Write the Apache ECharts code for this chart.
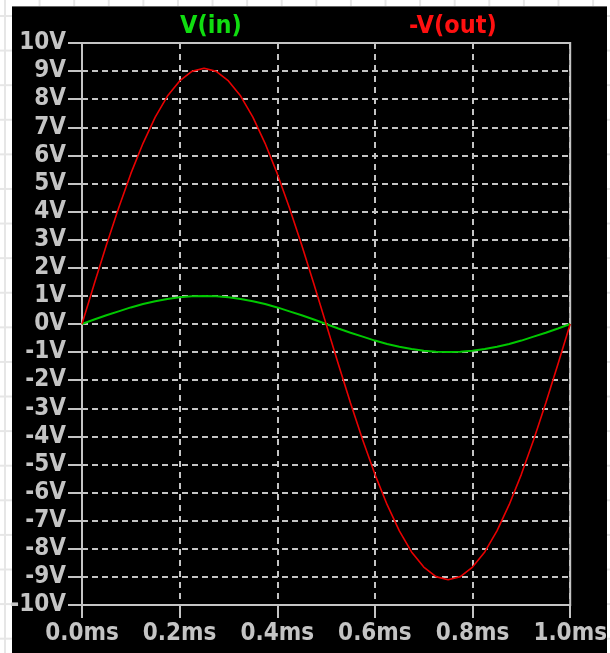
<!DOCTYPE html>
<html>
<head>
<meta charset="utf-8">
<script src="https://cdn.jsdelivr.net/npm/echarts@6/dist/echarts.min.js"></script>
<style>
  html, body { margin: 0; padding: 0; }
  body {
    width: 610px; height: 653px; overflow: hidden; position: relative;
    background-color: #ffffff;
    background-image:
      linear-gradient(to right, #e6e6e6 2px, transparent 2px),
      linear-gradient(to bottom, #e6e6e6 2px, transparent 2px);
    background-size: 34.6px 34.6px;
    background-position: 4px 15px;
  }
  #panel { position: absolute; left: 12px; top: 6px; width: 595px; height: 647px; background: #000; border-top: 1px solid #666; box-sizing: border-box; }
  #chart { position: absolute; left: 0; top: 0; width: 610px; height: 653px; }
</style>
</head>
<body>
<div id="panel"></div>
<div id="chart"></div>
<script>
// time in ms
const timeMs = [0, 0.025, 0.05, 0.075, 0.1, 0.125, 0.15, 0.175, 0.2, 0.225, 0.25,
  0.275, 0.3, 0.325, 0.35, 0.375, 0.4, 0.425, 0.45, 0.475, 0.5,
  0.525, 0.55, 0.575, 0.6, 0.625, 0.65, 0.675, 0.7, 0.725, 0.75,
  0.775, 0.8, 0.825, 0.85, 0.875, 0.9, 0.925, 0.95, 0.975, 1.0];
const vIn = [0, 0.16, 0.31, 0.45, 0.59, 0.71, 0.81, 0.89, 0.95, 0.99, 1.00,
  0.99, 0.95, 0.89, 0.81, 0.71, 0.59, 0.45, 0.31, 0.16, 0,
  -0.16, -0.31, -0.45, -0.59, -0.71, -0.81, -0.89, -0.95, -0.99, -1.00,
  -0.99, -0.95, -0.89, -0.81, -0.71, -0.59, -0.45, -0.31, -0.16, 0];
const vOutNeg = [0, 1.42, 2.81, 4.13, 5.35, 6.43, 7.36, 8.11, 8.65, 8.99, 9.10,
  8.99, 8.65, 8.11, 7.36, 6.43, 5.35, 4.13, 2.81, 1.42, 0,
  -1.42, -2.81, -4.13, -5.35, -6.43, -7.36, -8.11, -8.65, -8.99, -9.10,
  -8.99, -8.65, -8.11, -7.36, -6.43, -5.35, -4.13, -2.81, -1.42, 0];
const seriesNames = ['V(in)', '-V(out)'];

const FONT = 'DejaVu Sans Condensed';
const GRAY = '#c4c4c4';

const chart = echarts.init(document.getElementById('chart'), null, { renderer: 'canvas' });
chart.setOption({
  backgroundColor: 'transparent',
  animation: false,
  legend: [
    { data: [{ name: seriesNames[0], textStyle: { color: '#10dd10' } }], left: 170, top: 9,
      icon: 'none', itemWidth: 0, itemHeight: 0,
      textStyle: { fontFamily: FONT, fontWeight: 'bold', fontSize: 25 } },
    { data: [{ name: seriesNames[1], textStyle: { color: '#ff1010' } }], left: 399, top: 9,
      icon: 'none', itemWidth: 0, itemHeight: 0,
      textStyle: { fontFamily: FONT, fontWeight: 'bold', fontSize: 25 } }
  ],
  grid: { left: 82, right: 38, top: 43, bottom: 48, show: true, borderColor: GRAY, borderWidth: 2, backgroundColor: 'transparent' },
  xAxis: {
    type: 'value', min: 0, max: 1, interval: 0.2,
    axisLine: { show: true, onZero: false, lineStyle: { color: GRAY, width: 2 } },
    axisTick: { show: true, length: 13, lineStyle: { color: GRAY, width: 2 } },
    axisLabel: { color: GRAY, fontFamily: FONT, fontWeight: 'bold', fontSize: 24, margin: 17,
      formatter: v => v.toFixed(1) + 'ms' },
    splitLine: { show: true, lineStyle: { color: GRAY, width: 2, type: [6, 5] } }
  },
  yAxis: {
    type: 'value', min: -10, max: 10, interval: 1,
    axisLine: { show: true, onZero: false, lineStyle: { color: GRAY, width: 2 } },
    axisTick: { show: true, length: 14, lineStyle: { color: GRAY, width: 2 } },
    axisLabel: { color: GRAY, fontFamily: FONT, fontWeight: 'bold', fontSize: 24, margin: 16,
      formatter: v => v + 'V' },
    splitLine: { show: true, lineStyle: { color: GRAY, width: 2, type: [6, 4] } }
  },
  series: [
    { name: seriesNames[0], type: 'line', showSymbol: false, color: '#00c800',
      lineStyle: { width: 2, color: '#00c800' },
      data: timeMs.map((t, i) => [t, vIn[i]]) },
    { name: seriesNames[1], type: 'line', showSymbol: false, color: '#e80000',
      lineStyle: { width: 1.6, color: '#e80000' },
      data: timeMs.map((t, i) => [t, vOutNeg[i]]) }
  ]
});
</script>
</body>
</html>
